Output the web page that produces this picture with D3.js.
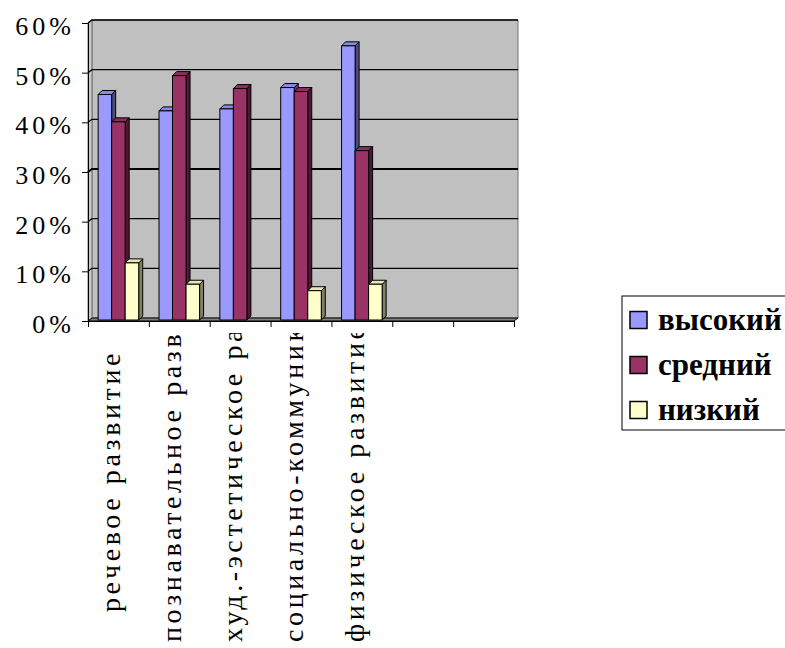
<!DOCTYPE html>
<html>
<head>
<meta charset="utf-8">
<script src="https://cdn.jsdelivr.net/npm/d3@7"></script>
</head>
<body style="margin:0">
<svg id="fig" width="785" height="648"></svg>
<script>
// category labels as they show under the axis (two trailing empty slots)
const categories = ["речевое развитие", "познавательное развит", "худ.-эстетическое разви", "социально-коммуникат", "физическое развитие", "", ""];
const seriesNames = ["высокий", "средний", "низкий"];
const high = [45.4, 42.1, 42.5, 46.8, 55.2];
const middle = [39.9, 49.2, 46.6, 46.0, 34.1];
const low = [11.5, 7.2, 0, 5.9, 7.2];
const yTicks = [0, 10, 20, 30, 40, 50, 60];

const size = { width: 785, height: 648 };
const plot = { left: 88, right: 514, top: 23, bottom: 321 };
const depth = { dx: 4, dy: -3 };
const fams = ["Liberation Serif"];
const serif = () => `"${fams[0]}"`;
const colors = {
  "высокий": { front: "#9999ff", top: "#8a8ae6", side: "#4d4d80" },
  "средний": { front: "#993366", top: "#8a2e5c", side: "#4d1a33" },
  "низкий": { front: "#ffffcc", top: "#e6e6b8", side: "#808066" }
};

const svg = d3.select("#fig");

const x0 = d3.scaleBand().domain(d3.range(categories.length)).range([plot.left, plot.right]);
const x1 = d3.scaleBand().domain(seriesNames).range([0, x0.bandwidth()]).paddingInner(0).paddingOuter(0.75);
const y = d3.scaleLinear().domain([0, 60]).range([plot.bottom, plot.top]);
const xEdge = d3.scaleLinear().domain([0, categories.length]).range([plot.left, plot.right]);

const pts = arr => arr.map(p => p.join(",")).join(" ");

// walls
const L = plot.left, R = plot.right, T = plot.top, B = plot.bottom, dx = depth.dx, dy = depth.dy;
svg.append("polygon")
  .attr("points", pts([[L + dx, T + dy], [R + dx, T + dy], [R + dx, B + dy], [L + dx, B + dy]]))
  .attr("fill", "#c0c0c0").attr("stroke", "#707070").attr("stroke-width", 1);
svg.append("polygon")
  .attr("points", pts([[L, T], [L + dx, T + dy], [L + dx, B + dy], [L, B]]))
  .attr("fill", "#c8c8c8").attr("stroke", "#707070").attr("stroke-width", 1);

// gridlines on back and side wall
const grid = svg.append("g");
yTicks.filter(d => d > 0).forEach(d => {
  grid.append("polyline")
    .attr("points", pts([[L, y(d)], [L + dx, y(d) + dy], [R + dx, y(d) + dy]]))
    .attr("fill", "none").attr("stroke", "#000").attr("stroke-width", d == 30 ? 2 : 1.3);
});

// floor
svg.append("polygon")
  .attr("points", pts([[L, B], [L + dx, B + dy], [R + dx, B + dy], [R, B]]))
  .attr("fill", "#808080").attr("stroke", "#000").attr("stroke-width", 1);

// bars
const data = categories.slice(0, 5).map((c, i) => ({
  i: i,
  values: [
    { key: "высокий", v: high[i] },
    { key: "средний", v: middle[i] },
    { key: "низкий", v: low[i] }
  ]
}));

const bw = x1.bandwidth();
const bd = { dx: 4, dy: -4 };
data.forEach(cat => {
  cat.values.filter(d => d.v > 0).forEach(d => {
    const xa = x0(cat.i) + x1(d.key);
    const xb = xa + bw;
    const yt = y(d.v) - 1;
    const yb = y(0) - 1;
    const g = svg.append("g").attr("stroke", "#000").attr("stroke-width", 1).attr("stroke-linejoin", "round");
    g.append("polygon")
      .attr("points", pts([[xb, yt], [xb + bd.dx, yt + bd.dy], [xb + bd.dx, yb + bd.dy], [xb, yb]]))
      .attr("fill", colors[d.key].side);
    g.append("polygon")
      .attr("points", pts([[xa, yt], [xa + bd.dx, yt + bd.dy], [xb + bd.dx, yt + bd.dy], [xb, yt]]))
      .attr("fill", colors[d.key].top);
    g.append("rect")
      .attr("x", xa).attr("y", yt).attr("width", bw).attr("height", yb - yt)
      .attr("fill", colors[d.key].front);
  });
});

// axes
const yAxis = d3.axisLeft(y).tickValues(yTicks).tickSize(6).tickPadding(7).tickFormat(d => d + "%");
const gy = svg.append("g").attr("transform", `translate(${plot.left},0)`).call(yAxis);
gy.attr("font-family", null).attr("font-size", null);
gy.select(".domain").attr("stroke", "#000");
gy.selectAll("text")
  .style("font-family", serif).style("font-size", "26px").style("letter-spacing", "4px")
  .attr("fill", "#000").attr("dy", "0.44em");

const xAxis = d3.axisBottom(xEdge).tickValues(d3.range(categories.length + 1)).tickSize(6).tickFormat("");
const gx = svg.append("g").attr("transform", `translate(0,${plot.bottom})`).call(xAxis);
gx.select(".domain").attr("stroke", "#000");

// category labels, rotated; labels too long for the space start at the bottom and get cut at the top
svg.append("clipPath").attr("id", "labclip")
  .append("rect").attr("x", 0).attr("y", 333).attr("width", size.width).attr("height", size.height - 333);
const labels = svg.append("g").attr("clip-path", "url(#labclip)")
  .selectAll("text").data(categories).enter().append("text")
  .style("font-family", serif).style("font-size", "28px").style("letter-spacing", "3.6px")
  .attr("fill", "#000")
  .text(d => d);
labels.each(function(d, i) {
  const long = this.getComputedTextLength() > 285;
  d3.select(this).attr("text-anchor", long ? "start" : "end")
    .attr("transform", `translate(${x0(i) + x0.bandwidth() / 2 + 2},${long ? 642 : 350}) rotate(-90)`);
});

// legend
const legend = svg.append("g");
legend.append("rect").attr("x", 622).attr("y", 296).attr("width", 180).attr("height", 134)
  .attr("fill", "#fff").attr("stroke", "#000").attr("stroke-width", 1);
const items = legend.selectAll("g").data(seriesNames).enter().append("g")
  .attr("transform", (d, i) => `translate(630,${320 + i * 45})`);
items.append("rect").attr("x", 0).attr("y", -8.5).attr("width", 17).attr("height", 17)
  .attr("fill", d => colors[d].front).attr("stroke", "#000").attr("stroke-width", 1.5);
items.append("text").attr("x", 28).attr("y", 10)
  .style("font-family", serif).style("font-size", "31px").style("font-weight", "bold")
  .attr("fill", "#000")
  .text(d => d);
</script>
</body>
</html>
